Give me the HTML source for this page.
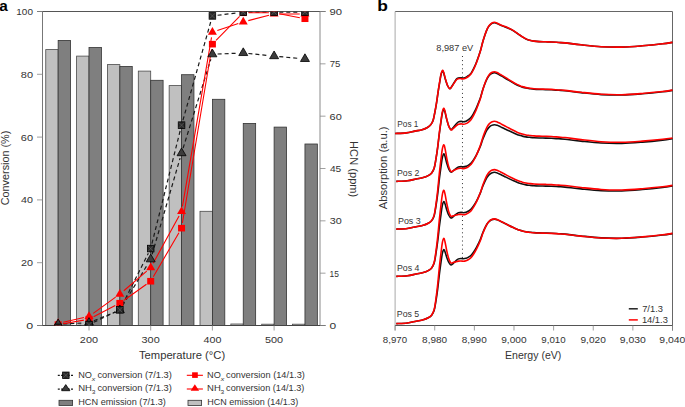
<!DOCTYPE html><html><head><meta charset="utf-8"><style>html,body{margin:0;padding:0;background:#fff;width:685px;height:407px;overflow:hidden}svg{display:block}</style></head><body>
<svg width="685" height="407" viewBox="0 0 685 407">
<rect width="685" height="407" fill="#fff"/>
<text x="-0.71" y="10.7" font-size="15" font-weight="bold" fill="#000" textLength="8.55" lengthAdjust="spacingAndGlyphs" font-family="'Liberation Sans', sans-serif" >a</text>
<text x="377.34" y="10.8" font-size="15" font-weight="bold" fill="#000" textLength="10.64" lengthAdjust="spacingAndGlyphs" font-family="'Liberation Sans', sans-serif" >b</text>
<g id="pa">
<rect x="45.75" y="49.6" width="12.4" height="275.9" fill="#c0c0c0" stroke="#4a4a4a" stroke-width="0.8"/>
<rect x="58.15" y="40.4" width="12.4" height="285.1" fill="#7f7f7f" stroke="#333" stroke-width="0.8"/>
<rect x="76.6" y="56.1" width="12.4" height="269.4" fill="#c0c0c0" stroke="#4a4a4a" stroke-width="0.8"/>
<rect x="89" y="47.5" width="12.4" height="278" fill="#7f7f7f" stroke="#333" stroke-width="0.8"/>
<rect x="107.45" y="64.6" width="12.4" height="260.9" fill="#c0c0c0" stroke="#4a4a4a" stroke-width="0.8"/>
<rect x="119.85" y="66.4" width="12.4" height="259.1" fill="#7f7f7f" stroke="#333" stroke-width="0.8"/>
<rect x="138.3" y="71.1" width="12.4" height="254.4" fill="#c0c0c0" stroke="#4a4a4a" stroke-width="0.8"/>
<rect x="150.7" y="80.3" width="12.4" height="245.2" fill="#7f7f7f" stroke="#333" stroke-width="0.8"/>
<rect x="169.15" y="85.6" width="12.4" height="239.9" fill="#c0c0c0" stroke="#4a4a4a" stroke-width="0.8"/>
<rect x="181.55" y="74.7" width="12.4" height="250.8" fill="#7f7f7f" stroke="#333" stroke-width="0.8"/>
<rect x="200" y="211.3" width="12.4" height="114.2" fill="#c0c0c0" stroke="#4a4a4a" stroke-width="0.8"/>
<rect x="212.4" y="99.3" width="12.4" height="226.2" fill="#7f7f7f" stroke="#333" stroke-width="0.8"/>
<rect x="230.85" y="324" width="12.4" height="1.5" fill="#c0c0c0" stroke="#4a4a4a" stroke-width="0.8"/>
<rect x="243.25" y="123.4" width="12.4" height="202.1" fill="#7f7f7f" stroke="#333" stroke-width="0.8"/>
<rect x="261.7" y="324.2" width="12.4" height="1.3" fill="#c0c0c0" stroke="#4a4a4a" stroke-width="0.8"/>
<rect x="274.1" y="127.1" width="12.4" height="198.4" fill="#7f7f7f" stroke="#333" stroke-width="0.8"/>
<rect x="292.55" y="324.2" width="12.4" height="1.3" fill="#c0c0c0" stroke="#4a4a4a" stroke-width="0.8"/>
<rect x="304.95" y="144" width="12.4" height="181.5" fill="#7f7f7f" stroke="#333" stroke-width="0.8"/>
<line x1="37" y1="11.5" x2="325.5" y2="11.5" stroke="#555" stroke-width="1"/>
<line x1="42.5" y1="11.5" x2="42.5" y2="325.5" stroke="#777" stroke-width="1"/>
<line x1="320.0" y1="11.5" x2="320.0" y2="325.5" stroke="#8a8a8a" stroke-width="1"/>
<line x1="37" y1="325.5" x2="325.5" y2="325.5" stroke="#444" stroke-width="1"/>
<line x1="37" y1="325.5" x2="42.5" y2="325.5" stroke="#888" stroke-width="0.8"/>
<text x="26.27" y="329" font-size="9.8" font-weight="normal" fill="#333" textLength="6.91" lengthAdjust="spacingAndGlyphs" font-family="'Liberation Sans', sans-serif" >0</text>
<line x1="37" y1="262.7" x2="42.5" y2="262.7" stroke="#888" stroke-width="0.8"/>
<text x="21.05" y="266.2" font-size="9.8" font-weight="normal" fill="#333" textLength="12" lengthAdjust="spacingAndGlyphs" font-family="'Liberation Sans', sans-serif" >20</text>
<line x1="37" y1="199.9" x2="42.5" y2="199.9" stroke="#888" stroke-width="0.8"/>
<text x="21.13" y="203.4" font-size="9.8" font-weight="normal" fill="#333" textLength="11.92" lengthAdjust="spacingAndGlyphs" font-family="'Liberation Sans', sans-serif" >40</text>
<line x1="37" y1="137.1" x2="42.5" y2="137.1" stroke="#888" stroke-width="0.8"/>
<text x="20.84" y="140.6" font-size="9.8" font-weight="normal" fill="#333" textLength="12.21" lengthAdjust="spacingAndGlyphs" font-family="'Liberation Sans', sans-serif" >60</text>
<line x1="37" y1="74.3" x2="42.5" y2="74.3" stroke="#888" stroke-width="0.8"/>
<text x="20.84" y="77.8" font-size="9.8" font-weight="normal" fill="#333" textLength="12.21" lengthAdjust="spacingAndGlyphs" font-family="'Liberation Sans', sans-serif" >80</text>
<line x1="37" y1="11.5" x2="42.5" y2="11.5" stroke="#888" stroke-width="0.8"/>
<text x="16.34" y="15" font-size="9.8" font-weight="normal" fill="#333" textLength="16.63" lengthAdjust="spacingAndGlyphs" font-family="'Liberation Sans', sans-serif" >100</text>
<line x1="320.0" y1="325.5" x2="325.5" y2="325.5" stroke="#888" stroke-width="0.8"/>
<text x="329.59" y="329" font-size="9.8" font-weight="normal" fill="#333" textLength="6.66" lengthAdjust="spacingAndGlyphs" font-family="'Liberation Sans', sans-serif" >0</text>
<line x1="320.0" y1="273.17" x2="325.5" y2="273.17" stroke="#888" stroke-width="0.8"/>
<text x="329.55" y="276.67" font-size="9.8" font-weight="normal" fill="#333" textLength="9.4" lengthAdjust="spacingAndGlyphs" font-family="'Liberation Sans', sans-serif" >15</text>
<line x1="320.0" y1="220.83" x2="325.5" y2="220.83" stroke="#888" stroke-width="0.8"/>
<text x="329.65" y="224.33" font-size="9.8" font-weight="normal" fill="#333" textLength="12" lengthAdjust="spacingAndGlyphs" font-family="'Liberation Sans', sans-serif" >30</text>
<line x1="320.0" y1="168.5" x2="325.5" y2="168.5" stroke="#888" stroke-width="0.8"/>
<text x="329.94" y="172" font-size="9.8" font-weight="normal" fill="#333" textLength="11.28" lengthAdjust="spacingAndGlyphs" font-family="'Liberation Sans', sans-serif" >45</text>
<line x1="320.0" y1="116.17" x2="325.5" y2="116.17" stroke="#888" stroke-width="0.8"/>
<text x="329.64" y="119.67" font-size="9.8" font-weight="normal" fill="#333" textLength="12.21" lengthAdjust="spacingAndGlyphs" font-family="'Liberation Sans', sans-serif" >60</text>
<line x1="320.0" y1="63.83" x2="325.5" y2="63.83" stroke="#888" stroke-width="0.8"/>
<text x="329.71" y="67.33" font-size="9.8" font-weight="normal" fill="#333" textLength="10.69" lengthAdjust="spacingAndGlyphs" font-family="'Liberation Sans', sans-serif" >75</text>
<line x1="320.0" y1="11.5" x2="325.5" y2="11.5" stroke="#888" stroke-width="0.8"/>
<text x="329.62" y="15" font-size="9.8" font-weight="normal" fill="#333" textLength="12.54" lengthAdjust="spacingAndGlyphs" font-family="'Liberation Sans', sans-serif" >90</text>
<line x1="89" y1="325.5" x2="89" y2="330.5" stroke="#888" stroke-width="0.8"/>
<text x="79.85" y="343" font-size="9.8" font-weight="normal" fill="#333" textLength="18.15" lengthAdjust="spacingAndGlyphs" font-family="'Liberation Sans', sans-serif" >200</text>
<line x1="150.7" y1="325.5" x2="150.7" y2="330.5" stroke="#888" stroke-width="0.8"/>
<text x="141.55" y="343" font-size="9.8" font-weight="normal" fill="#333" textLength="18.15" lengthAdjust="spacingAndGlyphs" font-family="'Liberation Sans', sans-serif" >300</text>
<line x1="212.4" y1="325.5" x2="212.4" y2="330.5" stroke="#888" stroke-width="0.8"/>
<text x="203.53" y="343" font-size="9.8" font-weight="normal" fill="#333" textLength="17.87" lengthAdjust="spacingAndGlyphs" font-family="'Liberation Sans', sans-serif" >400</text>
<line x1="274.1" y1="325.5" x2="274.1" y2="330.5" stroke="#888" stroke-width="0.8"/>
<text x="264.95" y="343" font-size="9.8" font-weight="normal" fill="#333" textLength="18.15" lengthAdjust="spacingAndGlyphs" font-family="'Liberation Sans', sans-serif" >500</text>
<text x="138.94" y="358.9" font-size="11" font-weight="normal" fill="#333" textLength="86.2" lengthAdjust="spacingAndGlyphs" font-family="'Liberation Sans', sans-serif" >Temperature (°C)</text>
<text transform="translate(9.3,205.29) rotate(-90)" x="0" y="0" font-size="11" font-weight="normal" fill="#333" textLength="74.65" lengthAdjust="spacingAndGlyphs" font-family="'Liberation Sans', sans-serif" >Conversion (%)</text>
<text transform="translate(350,141.09) rotate(90)" x="0" y="0" font-size="11" font-weight="normal" fill="#333" textLength="56.24" lengthAdjust="spacingAndGlyphs" font-family="'Liberation Sans', sans-serif" >HCN (ppm)</text>
</g>
<defs><clipPath id="cpa"><rect x="42.5" y="11.5" width="277.5" height="314.0"/></clipPath></defs>
<g clip-path="url(#cpa)">
<path d="M63.33 326.91L83.82 325.03M93.69 322.31L115.16 312.04M122.19 305.16L148.36 253.21M151.96 243.53L180.29 130.21M182.96 120.16L210.99 20.9M217.56 15.27L238.09 12.76M248.45 12.13L268.9 12.13M279.3 12.13L299.75 12.13" fill="none" stroke="#1a1a1a" stroke-width="1.2" stroke-dasharray="4,3"/>
<path d="M63.34 323.91L83.81 322.97M93.81 320.77L115.04 312.11M122.55 305.7L148 263.72M152.15 254.28L180.1 158.13M183.1 148.18L210.85 59.2M217.6 54.02L238.05 53.19M248.42 53.5L268.93 55.59M279.28 56.59L299.77 58.47" fill="none" stroke="#1a1a1a" stroke-width="1.2" stroke-dasharray="4,3"/>
<path d="M63.27 323.67L83.88 320.11M93.62 316.82L115.23 305.6M124.09 300.19L146.46 284.24M153.31 276.73L178.94 232.66M182.41 223.03L211.54 49.28M216.04 40.45L239.61 16.47M248.45 12.76L268.9 12.76M279.21 13.74L299.84 17.73" fill="none" stroke="#f00" stroke-width="1.1"/>
<path d="M63.22 322.27L83.93 317.57M93.21 313.38L115.64 297.17M123.8 290.75L146.75 271.13M153.2 263.19L179.05 216.1M182.43 206.42L211.52 37.38M217.33 30.6L238.32 23.55M248.29 20.61L269.06 15.32M279.3 14.04L299.75 14.04" fill="none" stroke="#f00" stroke-width="1.1"/>
<rect x="54.65" y="321.26" width="7" height="6.6" fill="#f00"/>
<rect x="85.5" y="315.92" width="7" height="6.6" fill="#f00"/>
<rect x="116.35" y="299.91" width="7" height="6.6" fill="#f00"/>
<rect x="147.2" y="277.93" width="7" height="6.6" fill="#f00"/>
<rect x="178.05" y="224.86" width="7" height="6.6" fill="#f00"/>
<rect x="208.9" y="40.86" width="7" height="6.6" fill="#f00"/>
<rect x="239.75" y="9.46" width="7" height="6.6" fill="#f00"/>
<rect x="270.6" y="9.46" width="7" height="6.6" fill="#f00"/>
<rect x="301.45" y="15.42" width="7" height="6.6" fill="#f00"/>
<polygon points="58.15,318.29 53.65,325.99 62.65,325.99" fill="#f00"/>
<polygon points="89,311.29 84.5,318.99 93.5,318.99" fill="#f00"/>
<polygon points="119.85,288.99 115.35,296.69 124.35,296.69" fill="#f00"/>
<polygon points="150.7,262.62 146.2,270.32 155.2,270.32" fill="#f00"/>
<polygon points="181.55,206.41 177.05,214.11 186.05,214.11" fill="#f00"/>
<polygon points="212.4,27.12 207.9,34.82 216.9,34.82" fill="#f00"/>
<polygon points="243.25,16.76 238.75,24.46 247.75,24.46" fill="#f00"/>
<polygon points="274.1,8.91 269.6,16.61 278.6,16.61" fill="#f00"/>
<polygon points="304.95,8.91 300.45,16.61 309.45,16.61" fill="#f00"/>
<polygon points="58.15,319.01 53.65,326.71 62.65,326.71" fill="#3c3c3c" stroke="#000" stroke-width="0.8" stroke-linejoin="miter"/>
<polygon points="89,317.6 84.5,325.3 93.5,325.3" fill="#3c3c3c" stroke="#000" stroke-width="0.8" stroke-linejoin="miter"/>
<polygon points="119.85,305.01 115.35,312.71 124.35,312.71" fill="#3c3c3c" stroke="#000" stroke-width="0.8" stroke-linejoin="miter"/>
<polygon points="150.7,254.14 146.2,261.84 155.2,261.84" fill="#3c3c3c" stroke="#000" stroke-width="0.8" stroke-linejoin="miter"/>
<polygon points="181.55,148.01 177.05,155.71 186.05,155.71" fill="#3c3c3c" stroke="#000" stroke-width="0.8" stroke-linejoin="miter"/>
<polygon points="212.4,49.1 207.9,56.8 216.9,56.8" fill="#3c3c3c" stroke="#000" stroke-width="0.8" stroke-linejoin="miter"/>
<polygon points="243.25,47.84 238.75,55.54 247.75,55.54" fill="#3c3c3c" stroke="#000" stroke-width="0.8" stroke-linejoin="miter"/>
<polygon points="274.1,50.98 269.6,58.68 278.6,58.68" fill="#3c3c3c" stroke="#000" stroke-width="0.8" stroke-linejoin="miter"/>
<polygon points="304.95,53.81 300.45,61.51 309.45,61.51" fill="#3c3c3c" stroke="#000" stroke-width="0.8" stroke-linejoin="miter"/>
<rect x="54.85" y="324.08" width="6.6" height="6.6" fill="#2a2a2a" stroke="#000" stroke-width="0.8"/><path d="M55.55 324.78L60.75 329.98M55.55 329.98L60.75 324.78" stroke="#666" stroke-width="0.6"/>
<rect x="85.7" y="321.26" width="6.6" height="6.6" fill="#2a2a2a" stroke="#000" stroke-width="0.8"/><path d="M86.4 321.96L91.6 327.16M86.4 327.16L91.6 321.96" stroke="#666" stroke-width="0.6"/>
<rect x="116.55" y="306.5" width="6.6" height="6.6" fill="#2a2a2a" stroke="#000" stroke-width="0.8"/><path d="M117.25 307.2L122.45 312.4M117.25 312.4L122.45 307.2" stroke="#666" stroke-width="0.6"/>
<rect x="147.4" y="245.27" width="6.6" height="6.6" fill="#2a2a2a" stroke="#000" stroke-width="0.8"/><path d="M148.1 245.97L153.3 251.17M148.1 251.17L153.3 245.97" stroke="#666" stroke-width="0.6"/>
<rect x="178.25" y="121.87" width="6.6" height="6.6" fill="#2a2a2a" stroke="#000" stroke-width="0.8"/><path d="M178.95 122.57L184.15 127.77M178.95 127.77L184.15 122.57" stroke="#666" stroke-width="0.6"/>
<rect x="209.1" y="12.6" width="6.6" height="6.6" fill="#2a2a2a" stroke="#000" stroke-width="0.8"/><path d="M209.8 13.3L215 18.5M209.8 18.5L215 13.3" stroke="#666" stroke-width="0.6"/>
<rect x="239.95" y="8.83" width="6.6" height="6.6" fill="#2a2a2a" stroke="#000" stroke-width="0.8"/><path d="M240.65 9.53L245.85 14.73M240.65 14.73L245.85 9.53" stroke="#666" stroke-width="0.6"/>
<rect x="270.8" y="8.83" width="6.6" height="6.6" fill="#2a2a2a" stroke="#000" stroke-width="0.8"/><path d="M271.5 9.53L276.7 14.73M271.5 14.73L276.7 9.53" stroke="#666" stroke-width="0.6"/>
<rect x="301.65" y="8.83" width="6.6" height="6.6" fill="#2a2a2a" stroke="#000" stroke-width="0.8"/><path d="M302.35 9.53L307.55 14.73M302.35 14.73L307.55 9.53" stroke="#666" stroke-width="0.6"/>
</g>
<line x1="57.8" y1="375.4" x2="74" y2="375.4" stroke="#1a1a1a" stroke-width="1.2" stroke-dasharray="2,1.3"/>
<rect x="62.6" y="372.05" width="6.5" height="6.5" fill="#2a2a2a" stroke="#000" stroke-width="0.8"/><path d="M63.3 372.75L68.4 377.85M63.3 377.85L68.4 372.75" stroke="#666" stroke-width="0.6"/>
<line x1="57.8" y1="389.2" x2="74" y2="389.2" stroke="#1a1a1a" stroke-width="1.2" stroke-dasharray="2,1.3"/>
<polygon points="65.75,384.6 61.6,390.7 69.9,390.7" fill="#3c3c3c" stroke="#000" stroke-width="0.8"/>
<rect x="59" y="400.3" width="13.6" height="5.2" fill="#7f7f7f" stroke="#333" stroke-width="0.8"/>
<text x="78.23" y="377.8" font-size="9" font-weight="normal" fill="#333" textLength="13.78" lengthAdjust="spacingAndGlyphs" font-family="'Liberation Sans', sans-serif" >NO</text>
<text x="91.78" y="380.7" font-size="5.5" font-weight="normal" fill="#333" textLength="3.52" lengthAdjust="spacingAndGlyphs" font-family="'Liberation Sans', sans-serif" font-style="italic">x</text>
<text x="78.21" y="391.3" font-size="9" font-weight="normal" fill="#333" textLength="13.68" lengthAdjust="spacingAndGlyphs" font-family="'Liberation Sans', sans-serif" >NH</text>
<text x="91.73" y="394.3" font-size="6" font-weight="normal" fill="#333" textLength="3.65" lengthAdjust="spacingAndGlyphs" font-family="'Liberation Sans', sans-serif" >3</text>
<text x="207.13" y="377.8" font-size="9" font-weight="normal" fill="#333" textLength="13.78" lengthAdjust="spacingAndGlyphs" font-family="'Liberation Sans', sans-serif" >NO</text>
<text x="220.68" y="380.7" font-size="5.5" font-weight="normal" fill="#333" textLength="3.52" lengthAdjust="spacingAndGlyphs" font-family="'Liberation Sans', sans-serif" font-style="italic">x</text>
<text x="207.11" y="391.3" font-size="9" font-weight="normal" fill="#333" textLength="13.68" lengthAdjust="spacingAndGlyphs" font-family="'Liberation Sans', sans-serif" >NH</text>
<text x="220.63" y="394.3" font-size="6" font-weight="normal" fill="#333" textLength="3.65" lengthAdjust="spacingAndGlyphs" font-family="'Liberation Sans', sans-serif" >3</text>
<text x="97.48" y="377.8" font-size="9" font-weight="normal" fill="#333" textLength="74.38" lengthAdjust="spacingAndGlyphs" font-family="'Liberation Sans', sans-serif" >conversion (7/1.3)</text>
<text x="97.48" y="391.3" font-size="9" font-weight="normal" fill="#333" textLength="74.38" lengthAdjust="spacingAndGlyphs" font-family="'Liberation Sans', sans-serif" >conversion (7/1.3)</text>
<text x="78.24" y="404.8" font-size="9" font-weight="normal" fill="#333" textLength="87.6" lengthAdjust="spacingAndGlyphs" font-family="'Liberation Sans', sans-serif" >HCN emission (7/1.3)</text>
<text x="226.09" y="377.8" font-size="9" font-weight="normal" fill="#333" textLength="78.77" lengthAdjust="spacingAndGlyphs" font-family="'Liberation Sans', sans-serif" >conversion (14/1.3)</text>
<text x="226.09" y="391.3" font-size="9" font-weight="normal" fill="#333" textLength="78.26" lengthAdjust="spacingAndGlyphs" font-family="'Liberation Sans', sans-serif" >conversion (14/1.3)</text>
<text x="207.15" y="404.8" font-size="9" font-weight="normal" fill="#333" textLength="91.18" lengthAdjust="spacingAndGlyphs" font-family="'Liberation Sans', sans-serif" >HCN emission (14/1.3)</text>
<line x1="186.8" y1="375.3" x2="202.9" y2="375.3" stroke="#f00" stroke-width="1.1"/>
<rect x="192.1" y="372.3" width="5.7" height="5.6" fill="#f00"/>
<line x1="186.8" y1="389" x2="202.9" y2="389" stroke="#f00" stroke-width="1.1"/>
<polygon points="194.85,384.3 190.6,390.7 199.1,390.7" fill="#f00"/>
<rect x="188" y="400.3" width="13.6" height="5.2" fill="#c0c0c0" stroke="#333" stroke-width="0.8"/>
<g id="pb">
<line x1="395.1" y1="11.5" x2="672.5" y2="11.5" stroke="#666" stroke-width="1"/>
<line x1="672.5" y1="11.5" x2="672.5" y2="330.5" stroke="#666" stroke-width="1"/>
<line x1="395.1" y1="11.5" x2="395.1" y2="330.5" stroke="#a8a8a8" stroke-width="1"/>
<line x1="395.1" y1="325.5" x2="672.5" y2="325.5" stroke="#555" stroke-width="1"/>
<line x1="395.1" y1="325.5" x2="395.1" y2="330.5" stroke="#888" stroke-width="0.8"/>
<text x="382.89" y="342.8" font-size="9.5" font-weight="normal" fill="#333" textLength="24.19" lengthAdjust="spacingAndGlyphs" font-family="'Liberation Sans', sans-serif" >8,970</text>
<line x1="434.73" y1="325.5" x2="434.73" y2="330.5" stroke="#888" stroke-width="0.8"/>
<text x="422.1" y="342.8" font-size="9.5" font-weight="normal" fill="#333" textLength="25.02" lengthAdjust="spacingAndGlyphs" font-family="'Liberation Sans', sans-serif" >8,980</text>
<line x1="474.36" y1="325.5" x2="474.36" y2="330.5" stroke="#888" stroke-width="0.8"/>
<text x="461.73" y="342.8" font-size="9.5" font-weight="normal" fill="#333" textLength="25.02" lengthAdjust="spacingAndGlyphs" font-family="'Liberation Sans', sans-serif" >8,990</text>
<line x1="513.99" y1="325.5" x2="513.99" y2="330.5" stroke="#888" stroke-width="0.8"/>
<text x="501.2" y="342.8" font-size="9.5" font-weight="normal" fill="#333" textLength="25.33" lengthAdjust="spacingAndGlyphs" font-family="'Liberation Sans', sans-serif" >9,000</text>
<line x1="553.61" y1="325.5" x2="553.61" y2="330.5" stroke="#888" stroke-width="0.8"/>
<text x="541.35" y="342.8" font-size="9.5" font-weight="normal" fill="#333" textLength="24.3" lengthAdjust="spacingAndGlyphs" font-family="'Liberation Sans', sans-serif" >9,010</text>
<line x1="593.24" y1="325.5" x2="593.24" y2="330.5" stroke="#888" stroke-width="0.8"/>
<text x="580.46" y="342.8" font-size="9.5" font-weight="normal" fill="#333" textLength="25.33" lengthAdjust="spacingAndGlyphs" font-family="'Liberation Sans', sans-serif" >9,020</text>
<line x1="632.87" y1="325.5" x2="632.87" y2="330.5" stroke="#888" stroke-width="0.8"/>
<text x="619.72" y="342.8" font-size="9.5" font-weight="normal" fill="#333" textLength="26.06" lengthAdjust="spacingAndGlyphs" font-family="'Liberation Sans', sans-serif" >9,030</text>
<line x1="672.5" y1="325.5" x2="672.5" y2="330.5" stroke="#888" stroke-width="0.8"/>
<text x="659.35" y="342.8" font-size="9.5" font-weight="normal" fill="#333" textLength="26.06" lengthAdjust="spacingAndGlyphs" font-family="'Liberation Sans', sans-serif" >9,040</text>
<text x="505.04" y="358.7" font-size="11" font-weight="normal" fill="#333" textLength="56.33" lengthAdjust="spacingAndGlyphs" font-family="'Liberation Sans', sans-serif" >Energy (eV)</text>
<text transform="translate(386.9,209.2) rotate(-90)" x="0" y="0" font-size="11" font-weight="normal" fill="#333" textLength="82.69" lengthAdjust="spacingAndGlyphs" font-family="'Liberation Sans', sans-serif" >Absorption (a.u.)</text>
<line x1="462.47" y1="56" x2="462.47" y2="258" stroke="#333" stroke-width="1" stroke-dasharray="1,3.1"/>
<text x="436.3" y="51.4" font-size="9.3" font-weight="normal" fill="#333" textLength="36.93" lengthAdjust="spacingAndGlyphs" font-family="'Liberation Sans', sans-serif" >8,987 eV</text>
<path d="M395.1 133.5C396.95 133.4 402.89 133.3 406.2 132.9C409.5 132.5 412.27 131.63 414.91 131.1C417.56 130.57 420.03 130.27 422.05 129.7C424.06 129.13 425.59 128.47 427 127.7C428.41 126.93 429.49 126.25 430.49 125.1C431.49 123.96 432.28 122.83 432.98 120.85C433.69 118.87 434.1 116.2 434.69 113.24C435.28 110.29 435.92 106.76 436.51 103.11C437.1 99.46 437.65 94.97 438.22 91.32C438.78 87.66 439.4 84 439.88 81.17C440.36 78.34 440.67 76.05 441.11 74.36C441.54 72.66 442.05 71.16 442.5 71C442.94 70.84 443.29 71.89 443.8 73.39C444.32 74.89 444.95 77.94 445.59 79.99C446.22 82.05 446.91 84.28 447.61 85.73C448.31 87.19 449.07 88.6 449.79 88.7C450.5 88.8 451.02 87.57 451.89 86.33C452.75 85.09 454.09 82.59 454.98 81.26C455.87 79.93 456.39 78.94 457.24 78.35C458.08 77.75 459.17 77.74 460.05 77.7C460.94 77.66 461.63 78.14 462.55 78.09C463.47 78.04 464.6 77.8 465.56 77.41C466.52 77.01 467.4 76.46 468.33 75.74C469.26 75.03 470.23 74.36 471.15 73.1C472.07 71.84 473.02 69.84 473.84 68.21C474.66 66.58 475.33 65.12 476.06 63.31C476.79 61.5 477.49 59.51 478.24 57.34C478.99 55.17 479.85 52.78 480.58 50.3C481.31 47.82 481.91 44.9 482.6 42.47C483.29 40.04 483.99 37.82 484.7 35.72C485.41 33.61 486.17 31.44 486.88 29.84C487.59 28.25 488.19 27.17 488.98 26.13C489.77 25.08 490.66 24.15 491.6 23.58C492.53 23.01 493.68 22.7 494.61 22.7C495.54 22.7 496.19 23.16 497.18 23.58C498.18 24.01 499.44 24.76 500.59 25.25C501.74 25.74 502.78 26.03 504.08 26.52C505.38 27.01 506.96 27.55 508.4 28.19C509.83 28.82 511.24 29.49 512.68 30.34C514.11 31.19 515.79 32.46 517 33.28C518.21 34.09 519.04 34.63 519.93 35.24C520.82 35.84 521.3 36.28 522.31 36.9C523.32 37.52 524.78 38.4 525.99 38.96C527.21 39.51 528.27 39.87 529.6 40.23C530.93 40.59 532.41 40.89 534 41.11C535.58 41.34 537.16 41.49 539.11 41.6C541.06 41.72 543.62 41.73 545.69 41.8C547.76 41.87 549.33 41.88 551.51 42C553.7 42.12 556.56 42.35 558.81 42.5C561.05 42.65 561.3 42.52 564.99 42.9C568.68 43.28 574.93 44.17 580.96 44.8C586.99 45.43 594.37 46.32 601.17 46.7C607.97 47.08 614.91 47.25 621.78 47.1C628.64 46.95 635.58 46.35 642.38 45.8C649.19 45.25 657.57 44.37 662.59 43.8C667.61 43.23 670.85 42.63 672.5 42.4" fill="none" stroke="#111" stroke-width="1.6" stroke-linejoin="round"/>
<path d="M395.1 133.5C396.95 133.4 402.89 133.3 406.2 132.9C409.5 132.5 412.27 131.63 414.91 131.1C417.56 130.57 420.03 130.27 422.05 129.7C424.06 129.13 425.59 128.47 427 127.7C428.41 126.93 429.49 126.25 430.49 125.1C431.49 123.95 432.28 122.8 432.98 120.8C433.69 118.8 434.1 116.1 434.69 113.1C435.28 110.1 435.92 106.52 436.51 102.8C437.1 99.08 437.65 94.52 438.22 90.8C438.78 87.08 439.4 83.37 439.88 80.5C440.36 77.63 440.67 75.32 441.11 73.6C441.54 71.88 442.05 70.35 442.5 70.2C442.94 70.05 443.29 71.13 443.8 72.7C444.32 74.27 444.95 77.45 445.59 79.6C446.22 81.75 446.91 84.08 447.61 85.6C448.31 87.12 449.07 88.55 449.79 88.7C450.5 88.85 451.02 87.65 451.89 86.5C452.75 85.35 454.09 83.03 454.98 81.8C455.87 80.57 456.39 79.65 457.24 79.1C458.08 78.55 459.17 78.53 460.05 78.5C460.94 78.47 461.63 78.95 462.55 78.9C463.47 78.85 464.6 78.6 465.56 78.2C466.52 77.8 467.4 77.23 468.33 76.5C469.26 75.77 470.23 75.08 471.15 73.8C472.07 72.52 473.02 70.47 473.84 68.8C474.66 67.13 475.33 65.65 476.06 63.8C476.79 61.95 477.49 59.92 478.24 57.7C478.99 55.48 479.85 53.03 480.58 50.5C481.31 47.97 481.91 44.98 482.6 42.5C483.29 40.02 483.99 37.75 484.7 35.6C485.41 33.45 486.17 31.23 486.88 29.6C487.59 27.97 488.19 26.87 488.98 25.8C489.77 24.73 490.66 23.78 491.6 23.2C492.53 22.62 493.68 22.3 494.61 22.3C495.54 22.3 496.19 22.77 497.18 23.2C498.18 23.63 499.44 24.4 500.59 24.9C501.74 25.4 502.78 25.7 504.08 26.2C505.38 26.7 506.96 27.25 508.4 27.9C509.83 28.55 511.24 29.23 512.68 30.1C514.11 30.97 515.79 32.27 517 33.1C518.21 33.93 519.04 34.48 519.93 35.1C520.82 35.72 521.3 36.17 522.31 36.8C523.32 37.43 524.78 38.33 525.99 38.9C527.21 39.47 528.27 39.83 529.6 40.2C530.93 40.57 532.41 40.87 534 41.1C535.58 41.33 537.16 41.48 539.11 41.6C541.06 41.72 543.62 41.73 545.69 41.8C547.76 41.87 549.33 41.88 551.51 42C553.7 42.12 556.56 42.35 558.81 42.5C561.05 42.65 561.3 42.52 564.99 42.9C568.68 43.28 574.93 44.17 580.96 44.8C586.99 45.43 594.37 46.32 601.17 46.7C607.97 47.08 614.91 47.25 621.78 47.1C628.64 46.95 635.58 46.35 642.38 45.8C649.19 45.25 657.57 44.37 662.59 43.8C667.61 43.23 670.85 42.63 672.5 42.4" fill="none" stroke="#f00" stroke-width="1.6" stroke-linejoin="round"/>
<path d="M396.29 181.4C398.14 181.3 404.08 181.2 407.38 180.8C410.69 180.4 413.46 179.53 416.1 179C418.75 178.47 421.22 178.17 423.24 177.6C425.25 177.03 426.78 176.38 428.19 175.6C429.6 174.82 430.68 174.19 431.68 172.95C432.67 171.71 433.47 170.41 434.17 168.16C434.87 165.91 435.29 162.92 435.88 159.45C436.47 155.98 437.11 151.73 437.7 147.33C438.29 142.94 438.84 137.45 439.4 133.08C439.97 128.71 440.59 124.42 441.07 121.12C441.55 117.81 441.86 115.22 442.3 113.27C442.73 111.31 443.24 109.59 443.68 109.4C444.13 109.21 444.48 110.42 444.99 112.13C445.51 113.84 446.14 117.32 446.78 119.66C447.41 122.01 448.1 124.56 448.8 126.22C449.5 127.87 450.26 129.33 450.98 129.6C451.69 129.87 452.21 128.76 453.08 127.83C453.94 126.91 455.28 125.04 456.17 124.05C457.06 123.06 457.61 122.32 458.43 121.88C459.25 121.44 460.27 121.42 461.09 121.4C461.9 121.38 462.51 121.79 463.33 121.75C464.16 121.7 465.18 121.49 466.04 121.14C466.91 120.79 467.69 120.3 468.54 119.67C469.39 119.04 470.26 118.45 471.15 117.34C472.03 116.23 473.02 114.45 473.84 113.01C474.66 111.57 475.33 110.29 476.06 108.69C476.79 107.09 477.49 105.33 478.24 103.41C478.99 101.5 479.85 99.38 480.58 97.19C481.31 95 481.91 92.42 482.6 90.27C483.29 88.12 483.99 86.16 484.7 84.3C485.41 82.44 486.17 80.53 486.88 79.11C487.59 77.7 488.19 76.75 488.98 75.83C489.77 74.9 490.66 74.08 491.6 73.58C492.53 73.07 493.68 72.8 494.61 72.8C495.54 72.8 496.19 73.14 497.18 73.6C498.18 74.05 499.44 74.88 500.59 75.53C501.74 76.18 502.78 76.73 504.08 77.5C505.38 78.28 506.96 79.31 508.4 80.17C509.83 81.02 511.24 81.84 512.68 82.64C514.11 83.45 515.79 84.38 517 84.98C518.21 85.58 519.04 85.88 519.93 86.24C520.82 86.6 521.3 86.81 522.31 87.12C523.32 87.43 524.78 87.83 525.99 88.08C527.21 88.33 528.27 88.44 529.6 88.62C530.93 88.8 532.41 89.02 534 89.16C535.58 89.29 537.16 89.37 539.11 89.44C541.06 89.51 543.62 89.54 545.69 89.6C547.76 89.66 549.33 89.69 551.51 89.81C553.7 89.93 556.56 90.17 558.81 90.32C561.05 90.47 561.3 90.34 564.99 90.73C568.68 91.12 574.93 92.01 580.96 92.66C586.99 93.3 594.37 94.19 601.17 94.59C607.97 94.98 614.91 95.16 621.78 95.02C628.64 94.88 635.58 94.29 642.38 93.75C649.19 93.21 657.57 92.34 662.59 91.78C667.61 91.23 670.85 90.63 672.5 90.4" fill="none" stroke="#111" stroke-width="1.6" stroke-linejoin="round"/>
<path d="M396.29 181.4C398.14 181.3 404.08 181.2 407.38 180.8C410.69 180.4 413.46 179.53 416.1 179C418.75 178.47 421.22 178.17 423.24 177.6C425.25 177.03 426.78 176.38 428.19 175.6C429.6 174.82 430.68 174.19 431.68 172.94C432.67 171.69 433.47 170.37 434.17 168.09C434.87 165.8 435.29 162.78 435.88 159.24C436.47 155.7 437.11 151.36 437.7 146.87C438.29 142.38 438.84 136.76 439.4 132.3C439.97 127.84 440.59 123.47 441.07 120.11C441.55 116.75 441.86 114.12 442.3 112.13C442.73 110.15 443.24 108.36 443.68 108.2C444.13 108.04 444.48 109.3 444.99 111.15C445.51 112.99 446.14 116.74 446.78 119.28C447.41 121.81 448.1 124.56 448.8 126.35C449.5 128.13 450.26 129.61 450.98 130C451.69 130.39 452.21 129.37 453.08 128.68C453.94 128 455.28 126.61 456.17 125.87C457.06 125.14 457.61 124.59 458.43 124.26C459.25 123.93 460.27 123.9 461.09 123.9C461.9 123.9 462.51 124.32 463.33 124.27C464.16 124.23 465.18 123.99 466.04 123.62C466.91 123.25 467.69 122.72 468.54 122.04C469.39 121.36 470.26 120.73 471.15 119.53C472.03 118.34 473.02 116.44 473.84 114.89C474.66 113.34 475.33 111.96 476.06 110.25C476.79 108.53 477.49 106.64 478.24 104.58C478.99 102.52 479.85 100.25 480.58 97.89C481.31 95.54 481.91 92.77 482.6 90.46C483.29 88.16 483.99 86.05 484.7 84.05C485.41 82.06 486.17 80 486.88 78.48C487.59 76.96 488.19 75.94 488.98 74.95C489.77 73.96 490.66 73.08 491.6 72.54C492.53 71.99 493.68 71.7 494.61 71.7C495.54 71.7 496.19 72.06 497.18 72.53C498.18 73.01 499.44 73.87 500.59 74.55C501.74 75.22 502.78 75.8 504.08 76.6C505.38 77.4 506.96 78.48 508.4 79.37C509.83 80.27 511.24 81.12 512.68 81.95C514.11 82.79 515.79 83.76 517 84.39C518.21 85.01 519.04 85.33 519.93 85.7C520.82 86.07 521.3 86.3 522.31 86.62C523.32 86.93 524.78 87.36 525.99 87.62C527.21 87.88 528.27 87.99 529.6 88.17C530.93 88.36 532.41 88.59 534 88.74C535.58 88.88 537.16 88.96 539.11 89.03C541.06 89.11 543.62 89.14 545.69 89.2C547.76 89.26 549.33 89.29 551.51 89.41C553.7 89.54 556.56 89.78 558.81 89.93C561.05 90.09 561.3 89.95 564.99 90.35C568.68 90.74 574.93 91.64 580.96 92.28C586.99 92.93 594.37 93.83 601.17 94.23C607.97 94.63 614.91 94.81 621.78 94.68C628.64 94.55 635.58 93.96 642.38 93.43C649.19 92.89 657.57 92.03 662.59 91.48C667.61 90.92 670.85 90.33 672.5 90.1" fill="none" stroke="#f00" stroke-width="1.6" stroke-linejoin="round"/>
<path d="M396.29 229.1C398.14 229 404.08 228.9 407.38 228.5C410.69 228.1 413.46 227.23 416.1 226.7C418.75 226.17 421.22 225.87 423.24 225.3C425.25 224.73 426.78 224.08 428.19 223.3C429.6 222.52 430.68 221.9 431.68 220.63C432.67 219.36 433.47 218 434.17 215.66C434.87 213.32 435.29 210.23 435.88 206.58C436.47 202.94 437.11 198.44 437.7 193.79C438.29 189.15 438.84 183.32 439.4 178.71C439.97 174.1 440.59 169.6 441.07 166.14C441.55 162.67 441.86 159.98 442.3 157.94C442.73 155.9 443.24 154.16 443.68 153.9C444.13 153.64 444.48 154.82 444.99 156.36C445.51 157.9 446.14 161.03 446.78 163.15C447.41 165.26 448.1 167.56 448.8 169.05C449.5 170.54 450.26 171.79 450.98 172.1C451.69 172.41 452.21 171.53 453.08 170.91C453.94 170.29 455.28 169.04 456.17 168.38C457.06 167.71 457.61 167.22 458.43 166.92C459.25 166.63 460.27 166.6 461.09 166.6C461.9 166.6 462.51 166.94 463.33 166.9C464.16 166.86 465.18 166.67 466.04 166.38C466.91 166.08 467.69 165.66 468.54 165.11C469.39 164.56 470.26 164.05 471.15 163.1C472.03 162.14 473.02 160.61 473.84 159.37C474.66 158.13 475.33 157.02 476.06 155.64C476.79 154.26 477.49 152.75 478.24 151.09C478.99 149.44 479.85 147.61 480.58 145.72C481.31 143.84 481.91 141.61 482.6 139.76C483.29 137.91 483.99 136.22 484.7 134.62C485.41 133.01 486.17 131.36 486.88 130.14C487.59 128.92 488.19 128.1 488.98 127.31C489.77 126.51 490.66 125.81 491.6 125.37C492.53 124.94 493.68 124.71 494.61 124.7C495.54 124.69 496.19 124.97 497.18 125.34C498.18 125.7 499.44 126.36 500.59 126.88C501.74 127.4 502.78 127.84 504.08 128.45C505.38 129.07 506.96 129.89 508.4 130.58C509.83 131.26 511.24 131.91 512.68 132.55C514.11 133.19 515.79 133.94 517 134.41C518.21 134.89 519.04 135.14 519.93 135.42C520.82 135.7 521.3 135.88 522.31 136.12C523.32 136.37 524.78 136.69 525.99 136.89C527.21 137.09 528.27 137.17 529.6 137.32C530.93 137.46 532.41 137.64 534 137.75C535.58 137.86 537.16 137.91 539.11 137.97C541.06 138.03 543.62 138.05 545.69 138.1C547.76 138.15 549.33 138.18 551.51 138.3C553.7 138.42 556.56 138.65 558.81 138.8C561.05 138.95 561.3 138.82 564.99 139.2C568.68 139.58 574.93 140.47 580.96 141.1C586.99 141.73 594.37 142.62 601.17 143C607.97 143.38 614.91 143.55 621.78 143.4C628.64 143.25 635.58 142.65 642.38 142.1C649.19 141.55 657.57 140.67 662.59 140.1C667.61 139.53 670.85 138.93 672.5 138.7" fill="none" stroke="#111" stroke-width="1.6" stroke-linejoin="round"/>
<path d="M396.29 229.1C398.14 229 404.08 228.9 407.38 228.5C410.69 228.1 413.46 227.23 416.1 226.7C418.75 226.17 421.22 225.87 423.24 225.3C425.25 224.73 426.78 224.09 428.19 223.3C429.6 222.51 430.68 221.94 431.68 220.58C432.67 219.21 433.47 217.7 434.17 215.09C434.87 212.49 435.29 209.09 435.88 204.95C436.47 200.8 437.11 195.59 437.7 190.23C438.29 184.87 438.84 178.06 439.4 172.76C439.97 167.46 440.59 162.35 441.07 158.43C441.55 154.51 441.86 151.52 442.3 149.23C442.73 146.94 443.24 144.85 443.68 144.7C444.13 144.55 444.48 146.05 444.99 148.32C445.51 150.59 446.14 155.2 446.78 158.32C447.41 161.43 448.1 164.81 448.8 167.01C449.5 169.21 450.26 170.87 450.98 171.5C451.69 172.13 452.21 171.17 453.08 170.81C453.94 170.45 455.28 169.72 456.17 169.34C457.06 168.95 457.61 168.66 458.43 168.49C459.25 168.32 460.27 168.28 461.09 168.3C461.9 168.32 462.51 168.68 463.33 168.64C464.16 168.59 465.18 168.38 466.04 168.05C466.91 167.71 467.69 167.24 468.54 166.62C469.39 166.01 470.26 165.44 471.15 164.36C472.03 163.29 473.02 161.57 473.84 160.17C474.66 158.77 475.33 157.53 476.06 155.98C476.79 154.43 477.49 152.73 478.24 150.87C478.99 149.01 479.85 146.96 480.58 144.83C481.31 142.71 481.91 140.21 482.6 138.13C483.29 136.05 483.99 134.15 484.7 132.35C485.41 130.54 486.17 128.69 486.88 127.32C487.59 125.95 488.19 125.03 488.98 124.13C489.77 123.24 490.66 122.44 491.6 121.95C492.53 121.47 493.68 121.21 494.61 121.2C495.54 121.19 496.19 121.51 497.18 121.92C498.18 122.33 499.44 123.07 500.59 123.66C501.74 124.24 502.78 124.73 504.08 125.43C505.38 126.12 506.96 127.05 508.4 127.82C509.83 128.59 511.24 129.33 512.68 130.05C514.11 130.77 515.79 131.61 517 132.15C518.21 132.68 519.04 132.96 519.93 133.28C520.82 133.6 521.3 133.79 522.31 134.07C523.32 134.35 524.78 134.71 525.99 134.93C527.21 135.16 528.27 135.25 529.6 135.42C530.93 135.58 532.41 135.78 534 135.9C535.58 136.02 537.16 136.09 539.11 136.16C541.06 136.22 543.62 136.23 545.69 136.3C547.76 136.37 549.33 136.41 551.51 136.55C553.7 136.69 556.56 136.94 558.81 137.11C561.05 137.28 561.3 137.15 564.99 137.57C568.68 137.98 574.93 138.92 580.96 139.61C586.99 140.29 594.37 141.24 601.17 141.68C607.97 142.12 614.91 142.35 621.78 142.26C628.64 142.17 635.58 141.63 642.38 141.14C649.19 140.65 657.57 139.84 662.59 139.31C667.61 138.79 670.85 138.22 672.5 138" fill="none" stroke="#f00" stroke-width="1.6" stroke-linejoin="round"/>
<path d="M396.29 276.4C398.14 276.3 404.08 276.2 407.38 275.8C410.69 275.4 413.46 274.53 416.1 274C418.75 273.47 421.22 273.17 423.24 272.6C425.25 272.03 426.78 271.38 428.19 270.6C429.6 269.82 430.68 269.2 431.68 267.93C432.67 266.66 433.47 265.32 434.17 262.99C434.87 260.66 435.29 257.58 435.88 253.95C436.47 250.33 437.11 245.86 437.7 241.25C438.29 236.63 438.84 230.85 439.4 226.27C439.97 221.69 440.59 217.21 441.07 213.77C441.55 210.33 441.86 207.65 442.3 205.62C442.73 203.59 443.24 201.9 443.68 201.6C444.13 201.3 444.48 202.43 444.99 203.82C445.51 205.21 446.14 208.03 446.78 209.93C447.41 211.84 448.1 213.91 448.8 215.25C449.5 216.6 450.26 217.74 450.98 218C451.69 218.26 452.21 217.42 453.08 216.79C453.94 216.16 455.28 214.89 456.17 214.21C457.06 213.53 457.61 213.03 458.43 212.73C459.25 212.43 460.27 212.41 461.09 212.4C461.9 212.39 462.51 212.72 463.33 212.69C464.16 212.65 465.18 212.47 466.04 212.19C466.91 211.9 467.69 211.5 468.54 210.97C469.39 210.45 470.26 209.96 471.15 209.05C472.03 208.13 473.02 206.67 473.84 205.48C474.66 204.29 475.33 203.23 476.06 201.91C476.79 200.59 477.49 199.14 478.24 197.56C478.99 195.98 479.85 194.23 480.58 192.42C481.31 190.61 481.91 188.49 482.6 186.71C483.29 184.94 483.99 183.32 484.7 181.79C485.41 180.26 486.17 178.67 486.88 177.51C487.59 176.34 488.19 175.56 488.98 174.8C489.77 174.04 490.66 173.36 491.6 172.94C492.53 172.53 493.68 172.3 494.61 172.3C495.54 172.3 496.19 172.58 497.18 172.96C498.18 173.33 499.44 174.01 500.59 174.54C501.74 175.08 502.78 175.53 504.08 176.16C505.38 176.8 506.96 177.65 508.4 178.35C509.83 179.06 511.24 179.73 512.68 180.39C514.11 181.04 515.79 181.81 517 182.3C518.21 182.8 519.04 183.05 519.93 183.34C520.82 183.63 521.3 183.81 522.31 184.06C523.32 184.31 524.78 184.65 525.99 184.85C527.21 185.06 528.27 185.14 529.6 185.29C530.93 185.44 532.41 185.62 534 185.74C535.58 185.85 537.16 185.91 539.11 185.97C541.06 186.03 543.62 186.05 545.69 186.1C547.76 186.15 549.33 186.16 551.51 186.27C553.7 186.37 556.56 186.59 558.81 186.73C561.05 186.87 561.3 186.73 564.99 187.09C568.68 187.46 574.93 188.31 580.96 188.91C586.99 189.51 594.37 190.35 601.17 190.69C607.97 191.04 614.91 191.17 621.78 190.98C628.64 190.79 635.58 190.15 642.38 189.57C649.19 188.98 657.57 188.05 662.59 187.45C667.61 186.86 670.85 186.24 672.5 186" fill="none" stroke="#111" stroke-width="1.6" stroke-linejoin="round"/>
<path d="M396.29 276.4C398.14 276.3 404.08 276.2 407.38 275.8C410.69 275.4 413.46 274.53 416.1 274C418.75 273.47 421.22 273.17 423.24 272.6C425.25 272.03 426.78 271.39 428.19 270.6C429.6 269.81 430.68 269.25 431.68 267.87C432.67 266.48 433.47 264.94 434.17 262.29C434.87 259.64 435.29 256.18 435.88 251.95C436.47 247.71 437.11 242.37 437.7 236.87C438.29 231.37 438.84 224.39 439.4 218.96C439.97 213.53 440.59 208.32 441.07 204.31C441.55 200.3 441.86 197.26 442.3 194.92C442.73 192.59 443.24 190.49 443.68 190.3C444.13 190.11 444.48 191.61 444.99 193.81C445.51 196.02 446.14 200.49 446.78 203.51C447.41 206.53 448.1 209.81 448.8 211.94C449.5 214.07 450.26 215.64 450.98 216.3C451.69 216.96 452.21 216.1 453.08 215.89C453.94 215.68 455.28 215.24 456.17 215.01C457.06 214.78 457.61 214.61 458.43 214.51C459.25 214.41 460.27 214.37 461.09 214.4C461.9 214.43 462.51 214.76 463.33 214.72C464.16 214.68 465.18 214.48 466.04 214.16C466.91 213.84 467.69 213.39 468.54 212.81C469.39 212.22 470.26 211.68 471.15 210.65C472.03 209.63 473.02 208 473.84 206.67C474.66 205.34 475.33 204.16 476.06 202.68C476.79 201.21 477.49 199.59 478.24 197.82C478.99 196.05 479.85 194.1 480.58 192.08C481.31 190.06 481.91 187.68 482.6 185.7C483.29 183.72 483.99 181.92 484.7 180.2C485.41 178.49 486.17 176.72 486.88 175.42C487.59 174.12 488.19 173.24 488.98 172.39C489.77 171.54 490.66 170.78 491.6 170.32C492.53 169.85 493.68 169.6 494.61 169.6C495.54 169.6 496.19 169.9 497.18 170.3C498.18 170.7 499.44 171.43 500.59 172.01C501.74 172.58 502.78 173.06 504.08 173.74C505.38 174.42 506.96 175.34 508.4 176.09C509.83 176.85 511.24 177.57 512.68 178.27C514.11 178.98 515.79 179.8 517 180.33C518.21 180.86 519.04 181.13 519.93 181.44C520.82 181.75 521.3 181.94 522.31 182.21C523.32 182.48 524.78 182.84 525.99 183.06C527.21 183.28 528.27 183.38 529.6 183.53C530.93 183.69 532.41 183.89 534 184.01C535.58 184.13 537.16 184.19 539.11 184.26C541.06 184.32 543.62 184.34 545.69 184.4C547.76 184.46 549.33 184.49 551.51 184.62C553.7 184.74 556.56 184.98 558.81 185.14C561.05 185.3 561.3 185.17 564.99 185.56C568.68 185.96 574.93 186.86 580.96 187.51C586.99 188.16 594.37 189.07 601.17 189.47C607.97 189.88 614.91 190.07 621.78 189.94C628.64 189.81 635.58 189.23 642.38 188.7C649.19 188.18 657.57 187.32 662.59 186.77C667.61 186.22 670.85 185.63 672.5 185.4" fill="none" stroke="#f00" stroke-width="1.6" stroke-linejoin="round"/>
<path d="M396.29 323.6C398.14 323.5 404.08 323.4 407.38 323C410.69 322.6 413.46 321.73 416.1 321.2C418.75 320.67 421.22 320.37 423.24 319.8C425.25 319.23 426.78 318.58 428.19 317.8C429.6 317.02 430.68 316.4 431.68 315.14C432.67 313.88 433.47 312.55 434.17 310.24C434.87 307.94 435.29 304.89 435.88 301.31C436.47 297.74 437.11 293.34 437.7 288.8C438.29 284.25 438.84 278.56 439.4 274.05C439.97 269.54 440.59 265.12 441.07 261.72C441.55 258.33 441.86 255.67 442.3 253.67C442.73 251.67 443.24 250.02 443.68 249.7C444.13 249.38 444.48 250.47 444.99 251.75C445.51 253.04 446.14 255.66 446.78 257.42C447.41 259.19 448.1 261.11 448.8 262.35C449.5 263.6 450.26 264.71 450.98 264.9C451.69 265.09 452.21 264.24 453.08 263.52C453.94 262.8 455.28 261.34 456.17 260.57C457.06 259.8 457.61 259.22 458.43 258.88C459.25 258.53 460.27 258.52 461.09 258.5C461.9 258.48 462.51 258.82 463.33 258.78C464.16 258.75 465.18 258.57 466.04 258.29C466.91 258.01 467.69 257.61 468.54 257.1C469.39 256.58 470.26 256.1 471.15 255.2C472.03 254.31 473.02 252.87 473.84 251.7C474.66 250.53 475.33 249.49 476.06 248.19C476.79 246.9 477.49 245.47 478.24 243.92C478.99 242.36 479.85 240.65 480.58 238.87C481.31 237.09 481.91 235 482.6 233.26C483.29 231.52 483.99 229.93 484.7 228.42C485.41 226.92 486.17 225.36 486.88 224.22C487.59 223.07 488.19 222.3 488.98 221.55C489.77 220.81 490.66 220.14 491.6 219.73C492.53 219.32 493.68 219.1 494.61 219.1C495.54 219.1 496.19 219.38 497.18 219.76C498.18 220.14 499.44 220.82 500.59 221.36C501.74 221.9 502.78 222.35 504.08 222.99C505.38 223.63 506.96 224.49 508.4 225.2C509.83 225.9 511.24 226.58 512.68 227.24C514.11 227.91 515.79 228.68 517 229.18C518.21 229.67 519.04 229.92 519.93 230.22C520.82 230.52 521.3 230.69 522.31 230.95C523.32 231.2 524.78 231.54 525.99 231.74C527.21 231.95 528.27 232.04 529.6 232.19C530.93 232.33 532.41 232.52 534 232.63C535.58 232.75 537.16 232.81 539.11 232.87C541.06 232.93 543.62 232.94 545.69 233C547.76 233.06 549.33 233.08 551.51 233.2C553.7 233.32 556.56 233.55 558.81 233.7C561.05 233.85 561.3 233.72 564.99 234.1C568.68 234.48 574.93 235.37 580.96 236C586.99 236.63 594.37 237.52 601.17 237.9C607.97 238.28 614.91 238.45 621.78 238.3C628.64 238.15 635.58 237.55 642.38 237C649.19 236.45 657.57 235.57 662.59 235C667.61 234.43 670.85 233.83 672.5 233.6" fill="none" stroke="#111" stroke-width="1.6" stroke-linejoin="round"/>
<path d="M396.29 323.6C398.14 323.5 404.08 323.4 407.38 323C410.69 322.6 413.46 321.73 416.1 321.2C418.75 320.67 421.22 320.37 423.24 319.8C425.25 319.23 426.78 318.59 428.19 317.8C429.6 317.01 430.68 316.45 431.68 315.07C432.67 313.7 433.47 312.17 434.17 309.55C434.87 306.92 435.29 303.49 435.88 299.31C436.47 295.12 437.11 289.85 437.7 284.42C438.29 278.99 438.84 272.1 439.4 266.74C439.97 261.38 440.59 256.22 441.07 252.26C441.55 248.3 441.86 245.29 442.3 242.98C442.73 240.67 443.24 238.61 443.68 238.4C444.13 238.19 444.48 239.64 444.99 241.72C445.51 243.81 446.14 248.04 446.78 250.9C447.41 253.76 448.1 256.86 448.8 258.88C449.5 260.89 450.26 262.38 450.98 263C451.69 263.62 452.21 262.79 453.08 262.57C453.94 262.34 455.28 261.89 456.17 261.65C457.06 261.41 457.61 261.23 458.43 261.12C459.25 261.01 460.27 260.97 461.09 261C461.9 261.03 462.51 261.34 463.33 261.3C464.16 261.26 465.18 261.07 466.04 260.78C466.91 260.48 467.69 260.05 468.54 259.5C469.39 258.95 470.26 258.44 471.15 257.48C472.03 256.52 473.02 254.98 473.84 253.73C474.66 252.49 475.33 251.37 476.06 249.99C476.79 248.6 477.49 247.08 478.24 245.42C478.99 243.76 479.85 241.92 480.58 240.02C481.31 238.13 481.91 235.89 482.6 234.03C483.29 232.17 483.99 230.47 484.7 228.86C485.41 227.25 486.17 225.59 486.88 224.37C487.59 223.14 488.19 222.32 488.98 221.52C489.77 220.72 490.66 220.01 491.6 219.57C492.53 219.14 493.68 218.9 494.61 218.9C495.54 218.9 496.19 219.19 497.18 219.58C498.18 219.97 499.44 220.67 500.59 221.23C501.74 221.78 502.78 222.25 504.08 222.9C505.38 223.56 506.96 224.44 508.4 225.17C509.83 225.9 511.24 226.6 512.68 227.28C514.11 227.96 515.79 228.76 517 229.27C518.21 229.78 519.04 230.04 519.93 230.34C520.82 230.64 521.3 230.83 522.31 231.09C523.32 231.35 524.78 231.69 525.99 231.91C527.21 232.12 528.27 232.21 529.6 232.36C530.93 232.51 532.41 232.7 534 232.82C535.58 232.94 537.16 233 539.11 233.06C541.06 233.13 543.62 233.15 545.69 233.2C547.76 233.25 549.33 233.27 551.51 233.38C553.7 233.49 556.56 233.72 558.81 233.86C561.05 234 561.3 233.87 564.99 234.24C568.68 234.61 574.93 235.47 580.96 236.09C586.99 236.7 594.37 237.56 601.17 237.93C607.97 238.29 614.91 238.43 621.78 238.26C628.64 238.09 635.58 237.47 642.38 236.9C649.19 236.32 657.57 235.41 662.59 234.83C667.61 234.25 670.85 233.64 672.5 233.4" fill="none" stroke="#f00" stroke-width="1.6" stroke-linejoin="round"/>
<text x="397.34" y="126.8" font-size="9.4" font-weight="normal" fill="#333" textLength="21.09" lengthAdjust="spacingAndGlyphs" font-family="'Liberation Sans', sans-serif" >Pos 1</text>
<text x="397" y="175.8" font-size="9.4" font-weight="normal" fill="#333" textLength="22.46" lengthAdjust="spacingAndGlyphs" font-family="'Liberation Sans', sans-serif" >Pos 2</text>
<text x="397.99" y="223.9" font-size="9.4" font-weight="normal" fill="#333" textLength="22.77" lengthAdjust="spacingAndGlyphs" font-family="'Liberation Sans', sans-serif" >Pos 3</text>
<text x="397" y="270.5" font-size="9.4" font-weight="normal" fill="#333" textLength="22.42" lengthAdjust="spacingAndGlyphs" font-family="'Liberation Sans', sans-serif" >Pos 4</text>
<text x="396.8" y="316.7" font-size="9.4" font-weight="normal" fill="#333" textLength="22.46" lengthAdjust="spacingAndGlyphs" font-family="'Liberation Sans', sans-serif" >Pos 5</text>
<line x1="628.8" y1="308.8" x2="637.8" y2="308.8" stroke="#222" stroke-width="1.5"/>
<text x="642.18" y="311.9" font-size="9" font-weight="normal" fill="#333" textLength="20.77" lengthAdjust="spacingAndGlyphs" font-family="'Liberation Sans', sans-serif" >7/1.3</text>
<line x1="628.8" y1="319.9" x2="637.8" y2="319.9" stroke="#f00" stroke-width="1.5"/>
<text x="641.92" y="323" font-size="9" font-weight="normal" fill="#333" textLength="25.93" lengthAdjust="spacingAndGlyphs" font-family="'Liberation Sans', sans-serif" >14/1.3</text>
</g>
</svg></body></html>
